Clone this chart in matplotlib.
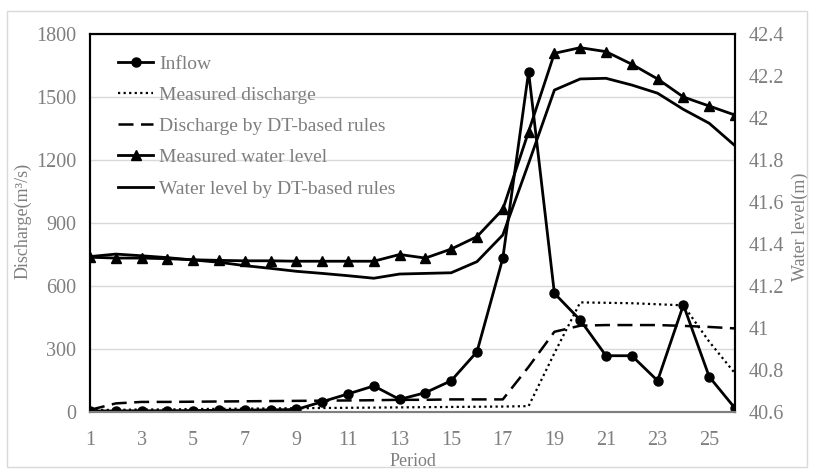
import matplotlib.pyplot as plt

plt.rcParams['font.family'] = ['Liberation Serif', 'DejaVu Serif']

period = list(range(1, 27))

inflow = [5, 5, 6, 6, 7, 8, 9, 10, 12, 49, 86, 124, 60, 92, 149, 287,
          732, 1620, 565, 438, 268, 268, 149, 510, 168, 18]
measured_q = [10, 10, 12, 12, 14, 15, 16, 17, 18, 19, 20, 21, 22, 23, 24, 25,
              26, 28, 280, 522, 520, 518, 513, 508, 335, 184]
dt_q = [10, 41, 48, 48, 49, 50, 51, 52, 53, 54, 55, 56, 58, 58, 60, 60,
        60, 215, 382, 411, 414, 414, 414, 410, 405, 398]
measured_wl = [41.337, 41.333, 41.333, 41.33, 41.325, 41.322, 41.32, 41.32, 41.318, 41.318,
               41.318, 41.318, 41.35, 41.333, 41.376, 41.435, 41.565, 41.935, 42.308, 42.335,
               42.316, 42.256, 42.186, 42.10, 42.057, 42.014]
dt_wl = [41.34, 41.352, 41.344, 41.335, 41.324, 41.313, 41.297, 41.284, 41.27, 41.26,
         41.249, 41.237, 41.257, 41.26, 41.263, 41.316, 41.443, 41.784, 42.133, 42.186,
         42.189, 42.157, 42.118, 42.041, 41.975, 41.868]

gray = '#7f7f7f'

fig = plt.figure(figsize=(8.14, 4.72), dpi=100)
# light chart-area border
fig.patches.append(plt.Rectangle((7 / 814, 5 / 472), 800 / 814, 456 / 472,
                                 transform=fig.transFigure, fill=False,
                                 edgecolor='#d9d9d9', lw=1))
ax = fig.add_axes([90 / 814, 60 / 472, 645 / 814, 378 / 472])
ax2 = ax.twinx()

ax.plot(period, measured_q, color='black', ls=(0, (1, 1.5)), lw=1.6, label='Measured discharge')
ax.plot(period, dt_q, color='black', ls=(0, (6, 3)), lw=1.8, label='Discharge by DT-based rules')
ax.plot(period, inflow, color='black', marker='o', ms=6.5, lw=2, label='Inflow')

ax2.plot(period, measured_wl, color='black', marker='^', ms=6.5, lw=2, label='Measured water level')
ax2.plot(period, dt_wl, color='black', lw=2, label='Water level by DT-based rules')

ax.set_xlim(1, 26)
ax.set_ylim(0, 1800)
ax.set_yticks(range(0, 1801, 300))
ax.set_xticks(range(1, 26, 2))
ax2.set_ylim(40.6, 42.4)
wl_ticks = [40.6, 40.8, 41.0, 41.2, 41.4, 41.6, 41.8, 42.0, 42.2, 42.4]
ax2.set_yticks(wl_ticks)
ax2.set_yticklabels(['%g' % t for t in wl_ticks])

ax.grid(axis='y', color='#d9d9d9', lw=1)
ax.set_axisbelow(True)
for a in (ax, ax2):
    a.tick_params(length=0, labelsize=14.5, colors=gray, pad=10)
    for s in ('top', 'left', 'right'):
        a.spines[s].set_color('black')
        a.spines[s].set_linewidth(1.5)
    a.spines['bottom'].set_color(gray)
    a.spines['bottom'].set_linewidth(1.5)
ax.tick_params(axis='x', pad=14)

ax.set_xlabel('Period', color=gray, fontsize=13, labelpad=2)
ax.set_ylabel('Discharge(m³/s)', color=gray, fontsize=13)
ax.yaxis.set_label_coords(-0.09, 0.505)
ax2.set_ylabel('Water level(m)', color=gray, fontsize=13)
ax2.yaxis.set_label_coords(1.088, 0.49)

h1, l1 = ax.get_legend_handles_labels()
h2, l2 = ax2.get_legend_handles_labels()
order = [2, 0, 1]
handles = [h1[i] for i in order] + h2
labels = [l1[i] for i in order] + l2
leg = ax2.legend(handles, labels, loc='upper left', frameon=False, fontsize=14,
                 handlelength=1.8, handletextpad=0.3, labelspacing=0.7,
                 borderaxespad=0.0, bbox_to_anchor=(0.032, 0.965))
for t in leg.get_texts():
    t.set_color(gray)

fig.savefig('out.png', dpi=100)
